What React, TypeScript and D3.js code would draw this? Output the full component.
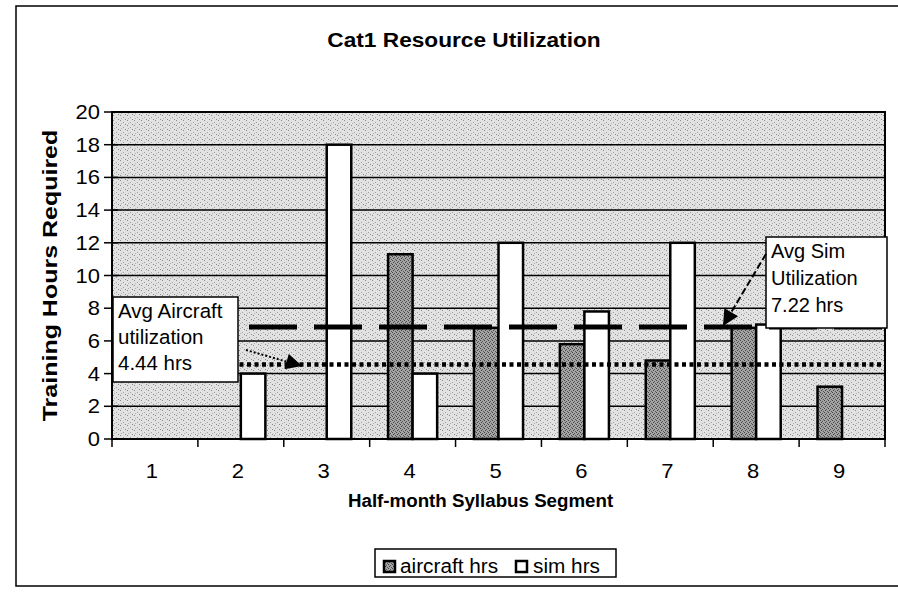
import React from 'react';
import * as d3 from 'd3';

const categories = ['1', '2', '3', '4', '5', '6', '7', '8', '9'];
const aircraftHrs = [0, 0, 0, 11.3, 6.8, 5.8, 4.8, 6.8, 3.2];
const simHrs = [0, 4, 18, 4, 12, 7.8, 12, 7, 0];
const yTicks = [0, 2, 4, 6, 8, 10, 12, 14, 16, 18, 20];
const seriesNames = ['aircraft hrs', 'sim hrs'];
// where the hand-drawn average lines sit on the picture
const avgSimLevel = 6.85;
const avgAircraftLevel = 4.55;

const W = 898;
const H = 592;
const font = '"Liberation Sans", Arial, sans-serif';

// text with a small horizontal stretch (the scan is a bit wider than the font)
const T = ({x, y, size, sx = 1, anchor = 'start', weight = 'normal', rotate = 0, children}: any) => (
  <text
    transform={`translate(${x},${y}) rotate(${rotate}) scale(${sx},1)`}
    fontSize={size}
    fontWeight={weight}
    textAnchor={anchor}
  >
    {children}
  </text>
);

const App = () => {
  // plot area
  const left = 112, right = 885, top = 112, bottom = 439;

  const x = d3.scaleBand<string>().domain(categories).range([left, right]).padding(0);
  const x1 = d3
    .scaleBand<string>()
    .domain(seriesNames)
    .range([0, x.bandwidth()])
    .paddingInner(0)
    .paddingOuter(0.75);
  const y = d3.scaleLinear().domain([0, 20]).range([bottom, top]);

  const bars: {cat: string; s: string; v: number}[] = [];
  categories.forEach((c, i) => {
    bars.push({cat: c, s: seriesNames[0], v: aircraftHrs[i]});
    bars.push({cat: c, s: seriesNames[1], v: simHrs[i]});
  });

  const ySim = y(avgSimLevel);
  const yAir = y(avgAircraftLevel);

  return (
    <svg width={W} height={H} style={{position: 'absolute', left: 0, top: 0}} fontFamily={font}>
      <defs>
        <pattern id="bgDots" width="7" height="5" patternUnits="userSpaceOnUse">
          <rect width="7" height="5" fill="#e2e2e2" />
          <rect x="1" y="0" width="1" height="1" fill="#8a8a8a" />
          <rect x="4" y="2" width="1" height="1" fill="#a0a0a0" />
          <rect x="2" y="3" width="1" height="1" fill="#b0b0b0" />
          <rect x="6" y="4" width="1" height="1" fill="#8a8a8a" />
        </pattern>
        <pattern id="barDots" width="4" height="4" patternUnits="userSpaceOnUse">
          <rect width="4" height="4" fill="#a4a4a4" />
          <rect x="0" y="0" width="1" height="1" fill="#444" />
          <rect x="2" y="1" width="1" height="1" fill="#555" />
          <rect x="1" y="2" width="1" height="1" fill="#444" />
          <rect x="3" y="3" width="1" height="1" fill="#555" />
        </pattern>
        <marker id="head" viewBox="0 0 10 10" refX="10" refY="5" markerWidth="10" markerHeight="8" orient="auto" markerUnits="strokeWidth">
          <path d="M0,0 L10,5 L0,10 z" fill="#000" />
        </marker>
      </defs>

      <rect x={0} y={0} width={W} height={H} fill="#fff" />
      {/* outer chart border */}
      <rect x={16} y={6} width={W - 14} height={580} fill="none" stroke="#000" strokeWidth={1.5} />

      {/* title */}
      <T x={464} y={47} size={21} sx={1.08} anchor="middle" weight="bold">
        Cat1 Resource Utilization
      </T>

      {/* plot background */}
      <rect x={left} y={top} width={right - left} height={bottom - top} fill="url(#bgDots)" />

      {/* gridlines */}
      {yTicks.map(t => (
        <line key={'g' + t} x1={left} x2={right} y1={y(t)} y2={y(t)} stroke="#000" strokeWidth={1.5} />
      ))}

      {/* bars */}
      {bars
        .filter(b => b.v > 0)
        .map(b => (
          <rect
            key={b.cat + b.s}
            x={(x(b.cat) ?? 0) + (x1(b.s) ?? 0)}
            y={y(b.v)}
            width={x1.bandwidth()}
            height={bottom - y(b.v)}
            fill={b.s === seriesNames[0] ? 'url(#barDots)' : '#fff'}
            stroke="#000"
            strokeWidth={2.5}
          />
        ))}

      {/* plot border */}
      <rect x={left} y={top} width={right - left} height={bottom - top} fill="none" stroke="#000" strokeWidth={2} />

      {/* y axis */}
      {yTicks.map(t => (
        <g key={'y' + t}>
          <line x1={left - 8} x2={left + 6} y1={y(t)} y2={y(t)} stroke="#000" strokeWidth={1.5} />
          <T x={100} y={y(t) + 7} size={20} sx={1.1} anchor="end">
            {t}
          </T>
        </g>
      ))}
      <T x={57} y={(top + bottom) / 2} size={21} sx={1.19} anchor="middle" weight="bold" rotate={-90}>
        Training Hours Required
      </T>

      {/* x axis */}
      <line x1={left} x2={right} y1={bottom} y2={bottom} stroke="#000" strokeWidth={2} />
      {categories.map(c => (
        <line key={'t' + c} x1={x(c)} x2={x(c)} y1={bottom} y2={bottom + 8} stroke="#000" strokeWidth={1.5} />
      ))}
      <line x1={right} x2={right} y1={bottom} y2={bottom + 8} stroke="#000" strokeWidth={1.5} />
      {categories.map(c => (
        <T key={'l' + c} x={(x(c) ?? 0) + x.bandwidth() / 2 - 3} y={478} size={20} sx={1.1} anchor="middle">
          {c}
        </T>
      ))}
      <T x={348} y={507} size={18} sx={1.04} weight="bold">
        Half-month Syllabus Segment
      </T>

      {/* average lines */}
      <line x1={left} x2={right} y1={ySim} y2={ySim} stroke="#000" strokeWidth={5} strokeDasharray="48 17" strokeDashoffset={-72} />
      <line x1={left} x2={right} y1={yAir} y2={yAir} stroke="#000" strokeWidth={4.5} strokeDasharray="4 3.5" />

      {/* aircraft annotation */}
      <rect x={113} y={297} width={125} height={85} fill="#fff" stroke="#000" strokeWidth={1.5} />
      <T x={118} y={318} size={20.5}>Avg Aircraft</T>
      <T x={118} y={344} size={20.5}>utilization</T>
      <T x={118} y={370} size={20.5}>4.44 hrs</T>
      <line x1={246} y1={350} x2={302} y2={366} stroke="#000" strokeWidth={2} strokeDasharray="2 2" markerEnd="url(#head)" />

      {/* sim annotation */}
      <rect x={766} y={237} width={121} height={91} fill="#fff" stroke="#000" strokeWidth={1.5} />
      <T x={771} y={258} size={20}>Avg Sim</T>
      <T x={771} y={285} size={20}>Utilization</T>
      <T x={771} y={312} size={20}>7.22 hrs</T>
      <line x1={766} y1={254} x2={723} y2={326} stroke="#000" strokeWidth={2} strokeDasharray="7 3" markerEnd="url(#head)" />

      {/* legend */}
      <rect x={375} y={549} width={241} height={28} fill="#fff" stroke="#000" strokeWidth={1.5} />
      <rect x={384} y={561} width={11} height={11} fill="url(#barDots)" stroke="#000" strokeWidth={2.5} />
      <T x={400} y={573} size={20} sx={1.04}>
        {seriesNames[0]}
      </T>
      <rect x={516} y={561} width={11} height={11} fill="#fff" stroke="#000" strokeWidth={2.5} />
      <T x={533} y={573} size={20} sx={1.04}>
        {seriesNames[1]}
      </T>
    </svg>
  );
};

export default App;
